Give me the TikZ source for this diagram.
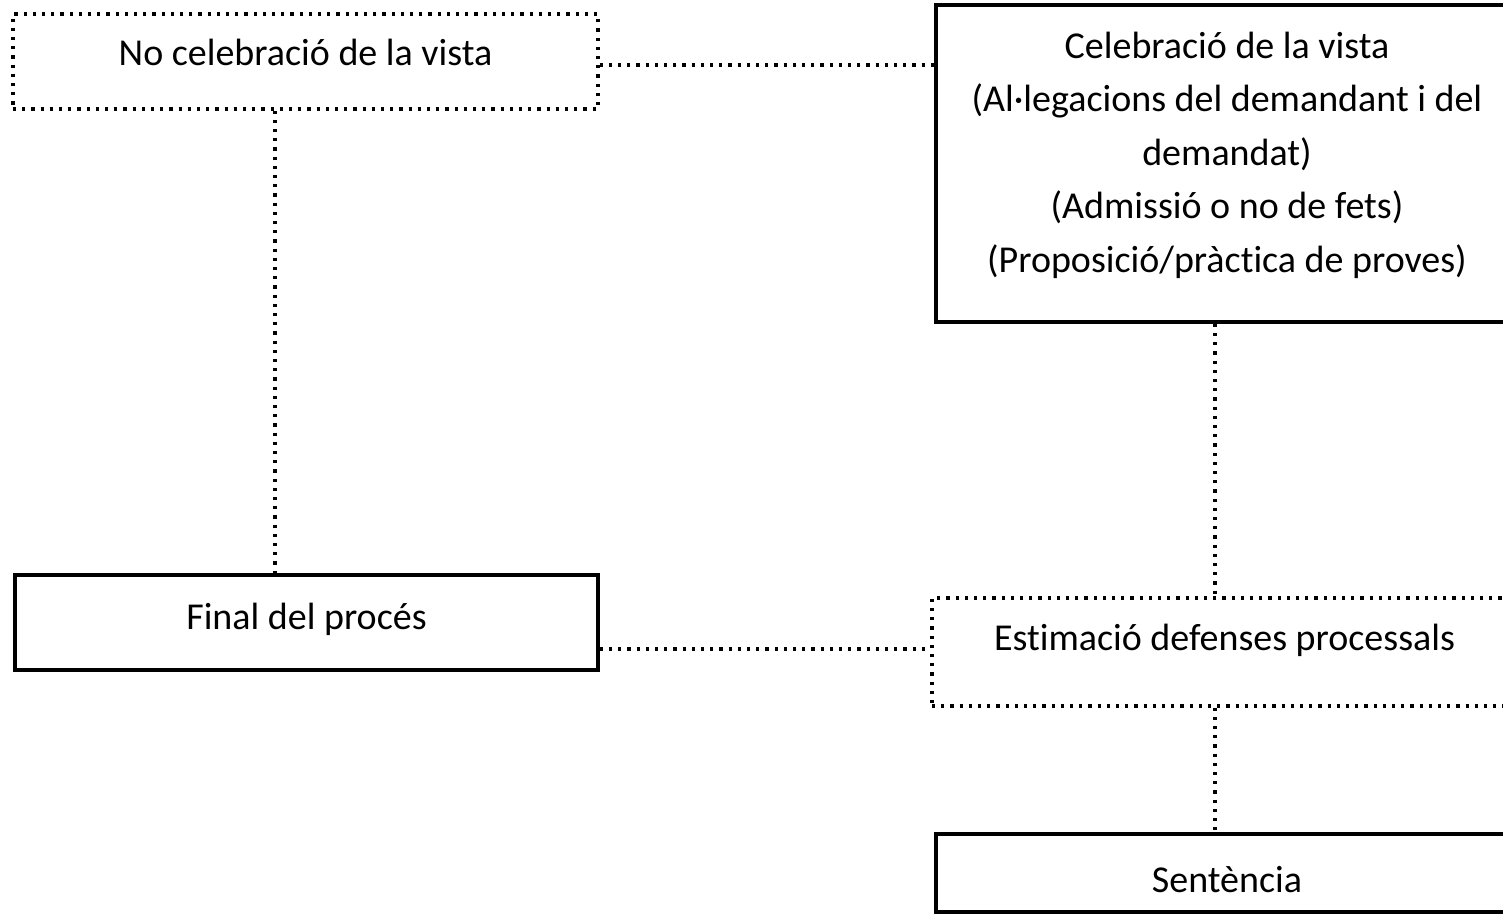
\documentclass[tikz,border=0pt]{standalone}
\usepackage{fontspec}
\setmainfont{Carlito}[Ligatures=NoCommon]
\usetikzlibrary{positioning}

\begin{document}
\begin{tikzpicture}[x=1pt,y=1pt,yscale=-1,xscale=1,
		solidbox/.style={draw, line width=3.5pt, inner sep=0pt},
		dotbox/.style={draw, line width=3.2pt, dash pattern=on 3.2pt off 6pt, inner sep=0pt},
		conn/.style={line width=3.2pt, dash pattern=on 3.2pt off 6pt},
		txt/.style={inner sep=0pt, text=black, font=\fontsize{38}{53.5}\selectfont, align=center}]
		\useasboundingbox (0,0) rectangle (1503,914);
		\clip (0,0) rectangle (1503,914);
		
		%Shape: Rectangle [id:novista] 
		\node [dotbox, minimum width=585pt, minimum height=95pt] (novista) at (305.5,61.5) {};
		%Shape: Rectangle [id:vista] 
		\node [solidbox, minimum width=582pt, minimum height=317pt] (vista) at (1227,163.5) {};
		%Shape: Rectangle [id:final] 
		\node [solidbox, minimum width=583pt, minimum height=95pt] (final) at (306.5,622.5) {};
		%Shape: Rectangle [id:estimacio] 
		\node [dotbox, minimum width=585pt, minimum height=108pt] (estimacio) at (1224.5,652) {};
		%Shape: Rectangle [id:sentencia] 
		\node [solidbox, minimum width=582pt, minimum height=78pt] (sentencia) at (1227,873) {};
		
		%Straight Lines [id:novista-vista] 
		\draw [conn] ([yshift=3.5pt]novista.east) -- ([yshift=3.5pt]novista.east -| vista.west) ;
		%Straight Lines [id:novista-final] 
		\draw [conn] ([xshift=-30.5pt]novista.south) -- ([xshift=-30.5pt]novista.south |- final.north) ;
		%Straight Lines [id:final-estimacio] 
		\draw [conn] ([yshift=-3pt]estimacio.west -| final.east) -- ([yshift=-3pt]estimacio.west) ;
		%Straight Lines [id:vista-estimacio] 
		\draw [conn] ([xshift=-12pt]vista.south) -- ([xshift=-12pt]vista.south |- estimacio.north) ;
		%Straight Lines [id:estimacio-sentencia] 
		\draw [conn] ([xshift=-12pt]vista.south |- estimacio.south) -- ([xshift=-12pt]vista.south |- sentencia.north) ;
		
		% Text Node
		\node [txt, anchor=base] (t-novista) at ([yshift=3.5pt]novista.center) {No celebració de la vista};
		% Text Node
		\node [txt] (t-vista) at ([yshift=-8.5pt]vista.center) {Celebració de la vista\\(Al·legacions del demandant i del\\demandat)\\(Admissió o no de fets)\\(Proposició/pràctica de proves)};
		% Text Node
		\node [txt, anchor=base] (t-final) at ([yshift=6.5pt]final.center) {Final del procés};
		% Text Node
		\node [txt, anchor=base] (t-estimacio) at ([yshift=-2pt]estimacio.center) {Estimació defenses processals};
		% Text Node
		\node [txt, anchor=base] (t-sentencia) at ([yshift=19pt]sentencia.center) {Sentència};
		
\end{tikzpicture}
\end{document}
